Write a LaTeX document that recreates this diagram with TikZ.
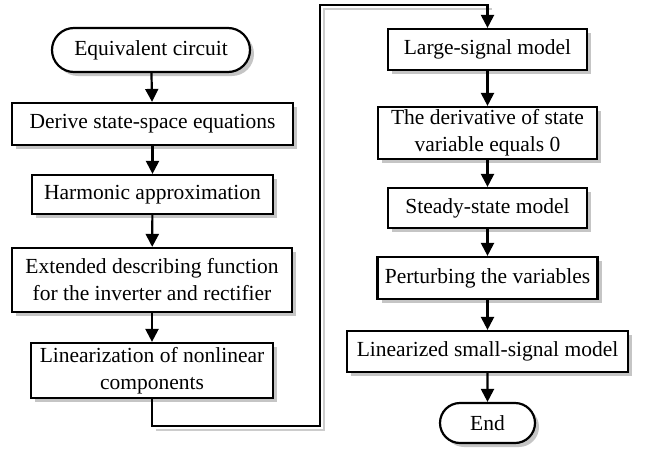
\documentclass[tikz,border=0pt]{standalone}
\usepackage{fontspec}
\setmainfont{Liberation Serif}
\usepackage{tikz}
\usetikzlibrary{positioning, shapes, shapes.misc, arrows.meta, shadows, calc}

\tikzset{
  blk/.style={draw, line width=2.2pt, fill=white, align=center, inner sep=0pt,
    drop shadow={shadow xshift=4pt, shadow yshift=-4pt, opacity=0.5, fill=black!45}},
  term/.style={blk, rounded rectangle},
  arr/.style={line width=2.2pt, -{Triangle[length=13pt,width=13pt]}}
}

\begin{document}
\begin{tikzpicture}[x=1pt, y=-1pt, every node/.style={font=\fontsize{21.5}{27}\selectfont}]
\useasboundingbox (0,0) rectangle (652,450);

%//left column
\node [term, minimum width=198pt, minimum height=44pt] (eqc) at (151, 50) {Equivalent circuit};
\node [blk, minimum width=281pt, minimum height=42pt] (der) at (152.5, 124) {Derive state-space equations};
\node [blk, minimum width=241pt, minimum height=39pt] (harm) at (152.5, 194.5) {Harmonic approximation};
\node [blk, minimum width=280pt, minimum height=64pt] (edf) at (152, 280) {Extended describing function\\for the inverter and rectifier};
\node [blk, minimum width=242pt, minimum height=55pt] (lin) at (152, 370.5) {Linearization of nonlinear\\components};

%//right column
\node [blk, minimum width=199pt, minimum height=41pt] (lsm) at (487.5, 49.5) {Large-signal model};
\node [blk, minimum width=219pt, minimum height=52pt] (dz) at (487.5, 133) {The derivative of state\\variable equals 0};
\node [blk, minimum width=199pt, minimum height=40pt] (ssm) at (487.5, 208) {Steady-state model};
\node [blk, minimum width=220pt, minimum height=42pt] (pert) at (487.5, 278) {Perturbing the variables};
\node [blk, minimum width=281pt, minimum height=41pt] (lss) at (487.5, 351.5) {Linearized small-signal model};
\node [term, minimum width=95pt, minimum height=40pt] (fin) at (487.5, 423) {End};

\foreach \a/\b in {eqc/der, der/harm, harm/edf, edf/lin, lsm/dz, dz/ssm, ssm/pert, pert/lss, lss/fin}
\draw [arr] (\a) -- (\b);

%//loop from left column to right column
\coordinate (c1) at (152, 426);
\coordinate (c2) at (320, 426);
\coordinate (c3) at (320, 5);
\coordinate (c4) at (487.5, 5);
\draw [gray!40, line width=2.2pt] ($(c1)+(4,4)$) -- ($(c2)+(4,4)$) -- ($(c3)+(4,4)$) -- ($(c4)+(4,4)$);
\draw [arr] (lin.south) -- (c1) -- (c2) -- (c3) -- (c4) -- (lsm.north);
\end{tikzpicture}
\end{document}
